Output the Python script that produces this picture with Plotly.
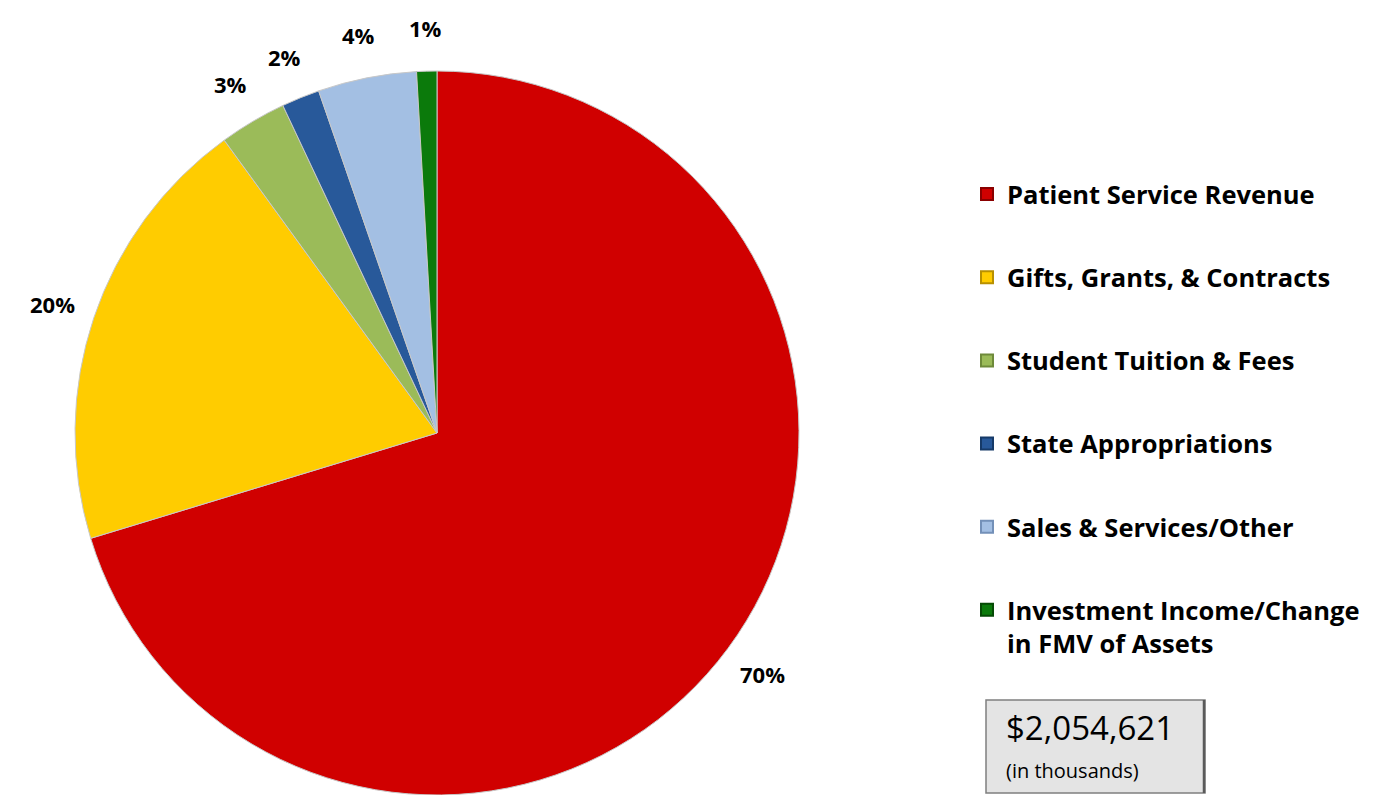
import math
import plotly.graph_objects as go

# Revenue sources (share of total, %)
categories = [
    "Patient Service Revenue",
    "Gifts, Grants, & Contracts",
    "Student Tuition & Fees",
    "State Appropriations",
    "Sales & Services/Other",
    "Investment Income/Change<br>in FMV of Assets",
]
shares = [70.3, 19.7, 3.0, 1.7, 4.4, 0.9]
colors = ["#D00000", "#FFCC00", "#9BBB59", "#28599A", "#A3BFE3", "#0B7A0B"]
edge_colors = ["#8A0000", "#B89000", "#6E8A3A", "#163A68", "#7390B8", "#054A05"]
total_label = "$2,054,621"
total_note = "(in thousands)"

# page body has an 8px margin, so the figure is sized to fit inside the window
OFF = 8
W, H = 1381 - OFF, 795 - OFF
cx, cy, R = 437 - OFF, 433 - OFF, 362  # pie centre / radius in figure pixels


def px(x):
    return x / W


def py(y):
    return 1 - y / H


fig = go.Figure()
fig.add_trace(go.Pie(
    labels=categories,
    values=shares,
    sort=False,
    direction="clockwise",
    rotation=0,
    marker=dict(colors=colors, line=dict(color="#c8c8c8", width=1)),
    textinfo="none",
    hoverinfo="label+percent",
    showlegend=False,
    domain=dict(x=[px(cx - R), px(cx + R)], y=[max(0, py(cy + R)), py(cy - R)]),
))

# Percentage labels placed outside each slice, at the slice's mid-angle
tot = sum(shares)
start = 0.0
for v in shares:
    mid = start + v / tot * 180.0
    start += v / tot * 360.0
    a = math.radians(mid)
    fig.add_annotation(
        x=px(cx + 1.12 * R * math.sin(a)), y=py(cy - 1.12 * R * math.cos(a)),
        xref="paper", yref="paper", xanchor="center", yanchor="middle",
        text=f"<b>{round(v / tot * 100)}%</b>", showarrow=False,
        font=dict(family="Open Sans", size=22, color="black"),
    )

# Legend via dummy traces so each entry can be spaced out
for name, c, ec in zip(categories, colors, edge_colors):
    fig.add_trace(go.Scatter(
        x=[None], y=[None], mode="markers", name=f"<b>{name}</b>",
        legendgroup=name,
        marker=dict(symbol="square", size=15, color=c, line=dict(color=ec, width=1.5)),
    ))

# Total box
bx0, by0, bx1, by1 = 986 - OFF, 700 - OFF, 1205 - OFF, 793 - OFF
fig.add_shape(type="rect", xref="paper", yref="paper",
              x0=px(bx0), x1=px(bx1), y0=py(by1), y1=py(by0),
              fillcolor="#E4E4E4", line=dict(color="#7F7F7F", width=1.5))
fig.add_shape(type="line", xref="paper", yref="paper",
              x0=px(bx1 - 1), x1=px(bx1 - 1), y0=py(by1), y1=py(by0),
              line=dict(color="#5A5A5A", width=2.5))
fig.add_annotation(
    x=px(bx0 + 18), y=py(by0 + 27), xref="paper", yref="paper",
    xanchor="left", yanchor="middle", text=total_label, showarrow=False,
    font=dict(family="Open Sans", size=33, color="black"),
)
fig.add_annotation(
    x=px(bx0 + 18), y=py(by0 + 70), xref="paper", yref="paper",
    xanchor="left", yanchor="middle", text=total_note, showarrow=False,
    font=dict(family="Open Sans", size=20, color="black"),
)

fig.update_layout(
    width=W, height=H,
    margin=dict(l=0, r=0, t=0, b=0),
    paper_bgcolor="white", plot_bgcolor="white",
    xaxis=dict(visible=False), yaxis=dict(visible=False),
    showlegend=True,
    legend=dict(
        x=px(967 - OFF), y=py(171 - OFF), xanchor="left", yanchor="top",
        font=dict(family="Open Sans", size=25.5, color="black"),
        tracegroupgap=47, valign="top", itemsizing="constant",
        bgcolor="rgba(0,0,0,0)",
    ),
)

fig.write_html("out.html")
